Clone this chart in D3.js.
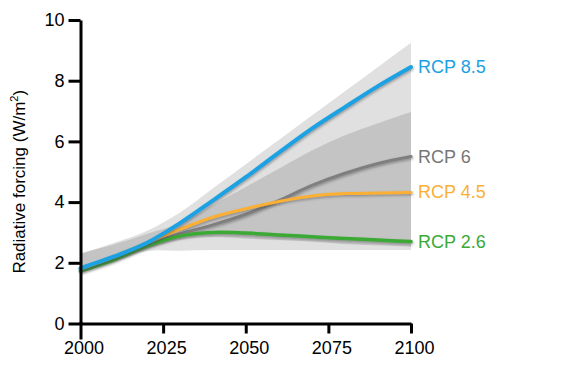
<!DOCTYPE html>
<html>
<head>
<meta charset="utf-8">
<script src="https://cdn.jsdelivr.net/npm/d3@7"></script>
<style>
  body { margin: 0; background: #fff; }
  svg { display: block; font-family: Arial, "Liberation Sans", sans-serif; }
</style>
</head>
<body>
<div id="chart-container"></div>
<script>
const years = [2000, 2010, 2020, 2030, 2040, 2050, 2060, 2070, 2080, 2090, 2100];

// scenario series (W/m2)
const rcp85 = [1.82, 2.2, 2.65, 3.3, 4.05, 4.82, 5.63, 6.42, 7.13, 7.82, 8.45];
const rcp6  = [1.8, 2.15, 2.6, 2.95, 3.25, 3.6, 4.05, 4.55, 4.95, 5.27, 5.5];
const rcp45 = [1.8, 2.2, 2.65, 3.1, 3.5, 3.78, 4.02, 4.2, 4.28, 4.3, 4.32];
const rcp26 = [1.73, 2.1, 2.55, 2.88, 3.0, 2.98, 2.92, 2.86, 2.8, 2.75, 2.7];

// uncertainty ranges
const outerUpper = [2.3, 2.65, 3.05, 3.65, 4.45, 5.25, 6.05, 6.85, 7.65, 8.45, 9.25];
const outerLower = [1.72, 2.02, 2.38, 2.4, 2.42, 2.42, 2.42, 2.42, 2.42, 2.42, 2.42];
const innerUpper = [2.3, 2.6, 2.95, 3.3, 3.9, 4.5, 5.1, 5.7, 6.2, 6.6, 6.97];
const innerLower = [1.72, 2.05, 2.45, 2.75, 2.85, 2.8, 2.75, 2.7, 2.62, 2.58, 2.53];

const scenarioNames = ["RCP 8.5", "RCP 6", "RCP 4.5", "RCP 2.6"];
const xTicks = [2000, 2025, 2050, 2075, 2100];
const yTicks = [0, 2, 4, 6, 8, 10];

const size = { width: 567, height: 372 };
const plot = { left: 80.5, right: 411, top: 20, bottom: 323.5 };

const x = d3.scaleLinear().domain([2000, 2100]).range([plot.left, plot.right]);
const y = d3.scaleLinear().domain([0, 10]).range([plot.bottom, plot.top]);
const smooth = d3.curveCatmullRom.alpha(0.5);

const svg = d3.select("#chart-container")
    .append("svg")
    .attr("width", size.width)
    .attr("height", size.height);

const defs = svg.append("defs");
defs.append("filter")
    .attr("id", "line-shadow")
    .attr("x", "-5%").attr("y", "-5%").attr("width", "110%").attr("height", "120%")
    .append("feDropShadow")
    .attr("dx", 0.8).attr("dy", 1.5).attr("stdDeviation", 0.9)
    .attr("flood-color", "#444").attr("flood-opacity", 0.45);

function drawBand(upper, lower, color) {
    const area = d3.area()
        .x((d, i) => x(years[i]))
        .y0((d, i) => y(lower[i]))
        .y1(d => y(d))
        .curve(smooth);
    svg.append("path")
        .datum(upper)
        .attr("d", area)
        .attr("fill", color);
}

drawBand(outerUpper, outerLower, "#e0e0e0");
drawBand(innerUpper, innerLower, "#c4c4c4");

const scenarios = [
    { values: rcp85, color: "#1ba1e2", labelColor: "#1ba1e2", width: 4 },
    { values: rcp6, color: "#7f7f7f", labelColor: "#777", width: 3 },
    { values: rcp45, color: "#fbb034", labelColor: "#fbb034", width: 3 },
    { values: rcp26, color: "#3aaa35", labelColor: "#3aaa35", width: 3.5 }
];

const line = d3.line()
    .x((d, i) => x(years[i]))
    .y(d => y(d))
    .curve(smooth);

// draw bottom-most scenarios first so higher ones sit on top
[1, 3, 2, 0].forEach(idx => {
    const s = scenarios[idx];
    svg.append("path")
        .datum(s.values)
        .attr("d", line)
        .attr("fill", "none")
        .attr("stroke", s.color)
        .attr("stroke-width", s.width)
        .attr("stroke-linecap", "round")
        .attr("filter", "url(#line-shadow)");
});

scenarios.forEach((s, idx) => {
    const last = s.values[s.values.length - 1];
    svg.append("text")
        .attr("x", x(2100) + 7)
        .attr("y", y(last) + 6)
        .attr("font-size", 18)
        .attr("fill", s.labelColor)
        .text(scenarioNames[idx]);
});

// axes
const yAxis = svg.append("g")
    .attr("transform", `translate(${plot.left},0)`)
    .call(d3.axisLeft(y).tickValues(yTicks).tickSize(12).tickSizeOuter(0).tickPadding(4));

const xAxis = svg.append("g")
    .attr("transform", `translate(0,${plot.bottom})`)
    .call(d3.axisBottom(x).tickValues(xTicks).tickFormat(d3.format("d")).tickSize(10).tickSizeOuter(0).tickPadding(8));

[yAxis, xAxis].forEach(g => {
    g.select(".domain").attr("stroke", "#000").attr("stroke-width", 3);
    g.selectAll(".tick line").attr("stroke", "#000").attr("stroke-width", 3);
    g.selectAll(".tick text")
        .attr("font-size", 18)
        .attr("font-family", "Arial, 'Liberation Sans', sans-serif")
        .attr("fill", "#000");
});

// first year tick runs a bit further down, as in the original
xAxis.selectAll(".tick")
    .filter(d => d === 2000)
    .select("line")
    .attr("y1", -1.5)
    .attr("y2", 16);
xAxis.selectAll(".tick text").attr("dx", 3);

const title = svg.append("text")
    .attr("transform", `translate(25,${(plot.top + plot.bottom) / 2 + 10}) rotate(-90)`)
    .attr("text-anchor", "middle")
    .attr("font-size", 17)
    .attr("fill", "#000");
title.append("tspan").text("Radiative forcing (W/m");
title.append("tspan").attr("font-size", 11).attr("dy", -7).text("2");
title.append("tspan").attr("dy", 7).text(")");
</script>
</body>
</html>
